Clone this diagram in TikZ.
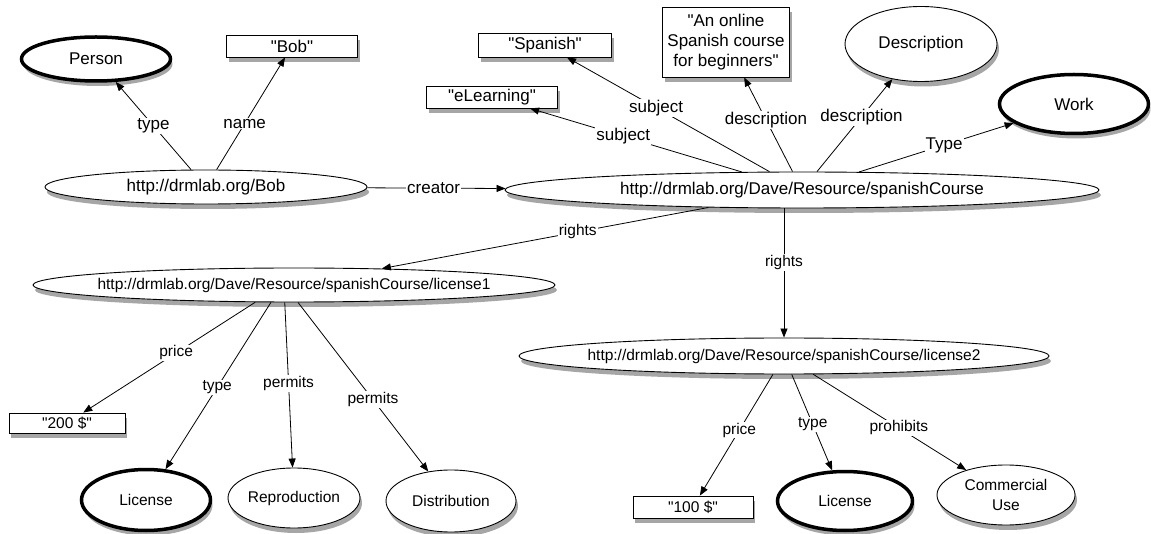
\documentclass[tikz,border=0pt]{standalone}
\usepackage{fontspec}
\setmainfont{Liberation Sans}
\usetikzlibrary{shapes.geometric,arrows.meta,shadows}
\newcommand\fbig{\fontsize{17}{20}\selectfont}
\newcommand\fsm{\fontsize{15.5}{19.5}\selectfont}
\newcommand\qq{\textquotedbl}
\tikzset{
  shad/.style={drop shadow={fill=black!35,opacity=1,shadow xshift=2pt,shadow yshift=-5pt}},
  ell/.style={ellipse, draw, fill=white, inner sep=0pt, line width=0.9pt, shad},
  thk/.style={ell, line width=3.5pt},
  box/.style={rectangle, draw, fill=white, inner sep=0pt, line width=0.9pt, shad},
  lab/.style={fill=white, inner sep=1pt},
  arr/.style={-{Triangle[length=9pt,width=7pt]}, line width=0.8pt},
}
\begin{document}
\begin{tikzpicture}[x=1pt,y=-1pt,font=\fbig]
\useasboundingbox[fill=white] (0,0) rectangle (1151,534);
% upper nodes
\node[thk, minimum width=149pt, minimum height=44pt] (person) at (96,59) {Person};
\node[box, minimum width=131pt, minimum height=22pt] (bobstr) at (292,46) {\qq Bob\qq};
\node[ell, inner xsep=-20pt, minimum width=322pt, minimum height=34pt] (bob) at (206,187) {http://drmlab.org/Bob};
\node[box, minimum width=133pt, minimum height=24pt] (spanish) at (545,45) {\qq Spanish\qq};
\node[box, minimum width=131pt, minimum height=22pt] (elearn) at (492,97) {\qq eLearning\qq};
\node[box, align=center, minimum width=127pt, minimum height=70pt] (descbox) at (726,42) {\qq An online\\Spanish course\\for beginners\qq};
\node[ell, minimum width=152pt, minimum height=75pt] (descell) at (921,44) {Description};
\node[thk, minimum width=149pt, minimum height=59pt] (work) at (1074,104) {Work};
\node[ell, inner xsep=-20pt, minimum width=594pt, minimum height=36pt] (sc) at (802,190) {http://drmlab.org/Dave/Resource/spanishCourse};
% lower nodes
\begin{scope}[font=\fsm]
\node[ell, inner xsep=-20pt, minimum width=522pt, minimum height=34pt] (l1) at (294,285) {http://drmlab.org/Dave/Resource/spanishCourse/license1};
\node[ell, inner xsep=-20pt, minimum width=530pt, minimum height=36pt] (l2) at (784,356) {http://drmlab.org/Dave/Resource/spanishCourse/license2};
\node[box, minimum width=116pt, minimum height=20pt] (p200) at (67,423) {\qq 200 \$\qq};
\node[thk, minimum width=129pt, minimum height=61pt] (lic1) at (146,500) {License};
\node[ell, minimum width=132pt, minimum height=60pt] (repro) at (294,498) {Reproduction};
\node[ell, minimum width=130pt, minimum height=62pt] (dist) at (451,501) {Distribution};
\node[box, minimum width=120pt, minimum height=22pt] (p100) at (693,507) {\qq 100 \$\qq};
\node[thk, minimum width=135pt, minimum height=59pt] (lic2) at (845,501) {License};
\node[ell, align=center, minimum width=138pt, minimum height=60pt] (comm) at (1006,495) {Commercial\\Use};
\end{scope}
% upper edges
\draw[arr] (bob) -- node[lab,pos=0.5]{type} (person);
\draw[arr] (bob) -- node[lab,pos=0.41]{name} (bobstr);
\draw[arr] (bob) -- node[lab,pos=0.48]{creator} (sc);
\draw[arr] (sc) -- node[lab,pos=0.56]{subject} (elearn);
\draw[arr] (sc) -- node[lab,pos=0.56]{subject} (spanish);
\draw[arr] (sc) -- node[lab,pos=0.55]{description} (descbox);
\draw[arr] (sc) -- node[lab,pos=0.59]{description} (descell);
\draw[arr] (sc) -- node[lab,pos=0.55]{Type} (work);
\begin{scope}[font=\fsm]
\draw[arr] (sc) -- node[lab,pos=0.4]{rights} (l1);
\draw[arr] (sc.south -| l2.north) -- node[lab,pos=0.42]{rights} (l2.north);
% license1 edges
\draw[arr] (l1.204) -- node[lab,pos=0.46]{price} (p200);
\draw[arr] (l1.217) -- node[lab,pos=0.51]{type} (lic1);
\draw[arr] (l1.242) -- node[lab,pos=0.49]{permits} (repro);
\draw[arr] (l1.283) -- node[lab,pos=0.575]{permits} (dist);
% license2 edges
\draw[arr] (l2) -- node[lab,pos=0.46]{price} (p100);
\draw[arr] (l2) -- node[lab,pos=0.52]{type} (lic2);
\draw[arr] (l2) -- node[lab,pos=0.56]{prohibits} (comm);
\end{scope}
\end{tikzpicture}
\end{document}
